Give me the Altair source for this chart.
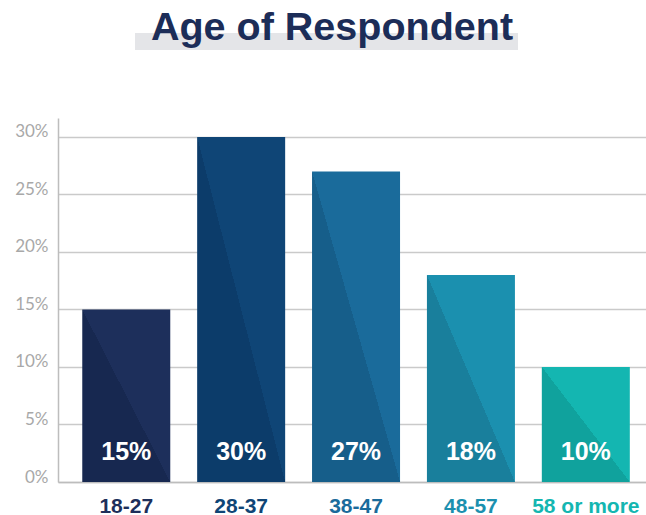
import altair as alt
import pandas as pd

# ---- data ----
ages = ["18-27", "28-37", "38-47", "48-57", "58 or more"]
shares = [15, 30, 27, 18, 10]
light_colors = ["#1d2f5b", "#0f4576", "#1a6b9b", "#1b90af", "#14b6b1"]
dark_colors = ["#172850", "#0c3c6a", "#165e8a", "#197f9c", "#10a29d"]
y_ticks = [0, 5, 10, 15, 20, 25, 30]
title_text = "Age of Respondent"

df = pd.DataFrame({"age": ages, "value": shares})

x_enc = alt.X(
    "age:N",
    sort=ages,
    scale=alt.Scale(paddingInner=0.234, paddingOuter=0.176, align=0.6),
    axis=alt.Axis(
        title=None,
        labelFont="Liberation Sans",
        labelFontWeight="bold",
        labelFontSize=21,
        labelBaseline="alphabetic",
        labelPadding=30,
        labelAngle=0,
        ticks=False,
        tickSize=0,
        domainColor="#bdbdbd",
        domainWidth=1.5,
        labelColor=alt.ExprRef(
            expr=" : ".join(
                f"datum.value === '{a}' ? '{c}'" for a, c in zip(ages, light_colors)
            )
            + " : '#333333'"
        ),
    ),
)

y_enc = alt.Y(
    "value:Q",
    scale=alt.Scale(domain=[0, 31.65], nice=False),
    axis=alt.Axis(
        title=None,
        values=y_ticks,
        labelExpr="datum.value + '%'",
        labelFont="Lato",
        labelFontSize=17,
        labelColor="#a8a8a8",
        labelBaseline="alphabetic",
        labelPadding=10,
        ticks=False,
        tickSize=0,
        grid=True,
        gridColor="#cacaca",
        gridWidth=1.5,
        domainColor="#bdbdbd",
        domainWidth=1.5,
    ),
)

base = alt.Chart(df)

layers = []

# decorative highlight band behind the title
band = base.transform_filter(f"datum.age === '{ages[0]}'").mark_rect(
    color="#e4e5e8"
).encode(
    x=alt.value(77), x2=alt.value(460), y=alt.value(-85), y2=alt.value(-68)
)
layers.append(band)

for a, lc, dc in zip(ages, light_colors, dark_colors):
    grad = alt.Gradient(
        gradient="linear",
        stops=[
            alt.GradientStop(offset=0, color=dc),
            alt.GradientStop(offset=0.5, color=dc),
            alt.GradientStop(offset=0.5, color=lc),
            alt.GradientStop(offset=1, color=lc),
        ],
        x1=0, y1=1, x2=1, y2=0,
    )
    layers.append(
        base.transform_filter(f"datum.age === '{a}'")
        .mark_bar(color=grad)
        .encode(x=x_enc, y=y_enc)
    )

labels = base.transform_calculate(lbl="datum.value + '%'").mark_text(
    color="white",
    font="Liberation Sans",
    fontWeight="bold",
    fontSize=25,
    baseline="alphabetic",
    dy=-22,
).encode(x=x_enc, y=alt.Y(datum=0), text="lbl:N")
layers.append(labels)

chart = (
    alt.layer(*layers)
    .properties(
        width=588,
        height=364,
        autosize=alt.AutoSizeParams(type="none"),
        padding={"left": 58, "top": 118, "right": 0, "bottom": 33},
        title=alt.TitleParams(
            title_text,
            font="Liberation Sans",
            fontWeight="bold",
            fontSize=39.5,
            color="#1c2d58",
            anchor="middle",
            baseline="alphabetic",
            offset=-46,
            dx=-20,
        ),
        background="white",
    )
    .configure_view(stroke=None)
)

chart.save("out.html", embed_options={"renderer": "svg", "actions": False})
